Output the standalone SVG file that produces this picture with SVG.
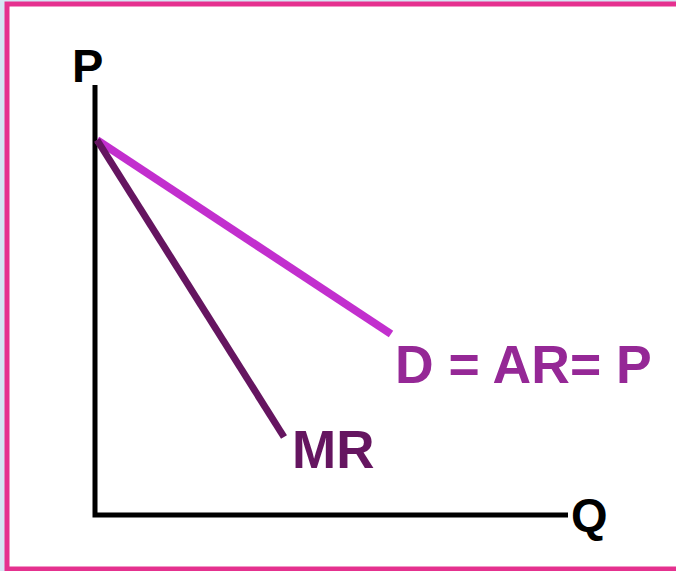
<svg xmlns="http://www.w3.org/2000/svg" width="676" height="571" viewBox="0 0 676 571">
<style>
.lbl{font-family:"Liberation Sans",Arial,sans-serif;font-weight:bold}
.axis{stroke:#000;stroke-width:5;fill:none}
</style>
<rect x="0" y="0" width="676" height="571" fill="#d6e6f4"/>
<rect x="7" y="4" width="680" height="565" fill="#fff" stroke="#e5318f" stroke-width="5"/>
<g id="axes">
<polyline class="axis" points="95,85 95,515 568,515"/>
</g>
<g id="connectors">
<line x1="97" y1="140" x2="391" y2="334" stroke="#c22fce" stroke-width="8"/>
<line x1="97" y1="140" x2="284" y2="437" stroke="#651560" stroke-width="7"/>
</g>
<g id="label-P"><text class="lbl" x="72" y="82" font-size="47" fill="#000">P</text></g>
<g id="label-Q"><text class="lbl" x="571" y="531" font-size="47" fill="#000">Q</text></g>
<g id="label-D"><text class="lbl" x="395" y="383" font-size="53.5" fill="#952896">D = AR= P</text></g>
<g id="label-MR"><text class="lbl" x="292" y="468" font-size="53" fill="#651560">MR</text></g>
</svg>
